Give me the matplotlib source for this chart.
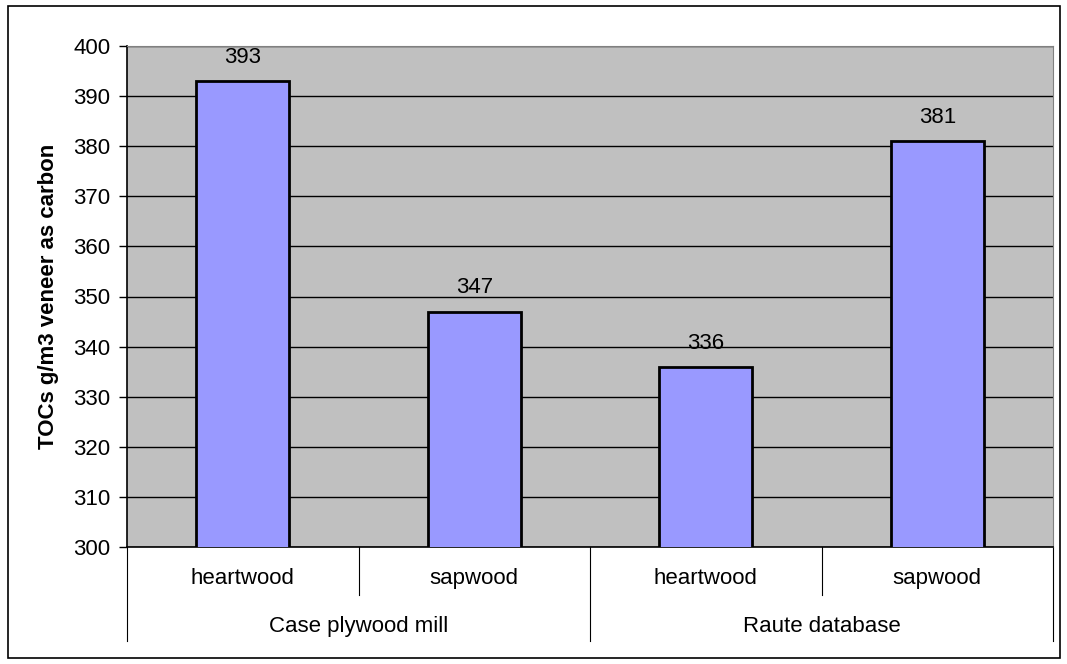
import matplotlib.pyplot as plt
import matplotlib.patches as patches
from matplotlib.transforms import blended_transform_factory

groups = ["Case plywood mill", "Raute database"]
woods = ["heartwood", "sapwood", "heartwood", "sapwood"]
values = [393, 347, 336, 381]
ylabel = "TOCs g/m3 veneer as carbon"

plt.rcParams['font.family'] = ['Liberation Sans', 'DejaVu Sans']
plt.rcParams['font.size'] = 16

fig = plt.figure(figsize=(10.67, 6.64), dpi=100)
ax = fig.add_axes([127 / 1067, 1 - 547 / 664, 926 / 1067, 501 / 664])
ax.set_facecolor('#C0C0C0')

x = list(range(len(values)))
bars = ax.bar(x, values, width=0.4, bottom=0, color='#9999FF', edgecolor='black', linewidth=2, zorder=3)
for xi, v in zip(x, values):
    ax.annotate(str(v), (xi, v), xytext=(0, 17), textcoords='offset points',
                ha='center', va='center', fontsize=16)

ax.set_ylim(300, 400)
ax.set_xlim(-0.5, len(values) - 0.5)
ax.set_yticks(range(300, 401, 10))
ax.yaxis.grid(True, color='black', linewidth=1)
ax.set_axisbelow(True)
ax.tick_params(axis='y', direction='out', length=6, width=1, pad=6)
ax.set_xticks([])
ax.set_ylabel(ylabel, fontweight='bold', fontsize=16, labelpad=10)

for side in ['top', 'right']:
    ax.spines[side].set_color('#808080')
for side in ['left', 'bottom']:
    ax.spines[side].set_color('black')
    ax.spines[side].set_linewidth(1.2)

# two-level category axis
trans = blended_transform_factory(ax.transData, ax.transAxes)
for i, w in enumerate(woods):
    ax.text(i, -0.062, w, transform=trans, ha='center', va='center', fontsize=16)
for i in range(len(woods) + 1):
    xs = i - 0.5
    low = -0.1876 if i % 2 == 0 else -0.0958
    ax.plot([xs, xs], [0, low], transform=trans, color='black', linewidth=0.8, clip_on=False)
for j, g in enumerate(groups):
    ax.text(2 * j + 0.5, -0.158, g, transform=trans, ha='center', va='center', fontsize=16)

# outer chart border
fig.patches.append(patches.Rectangle((8 / 1067, 1 - 658 / 664), 1052 / 1067, 652 / 664,
                                     transform=fig.transFigure, fill=False,
                                     edgecolor='black', linewidth=1.2))

fig.savefig('out.png', dpi=100)
